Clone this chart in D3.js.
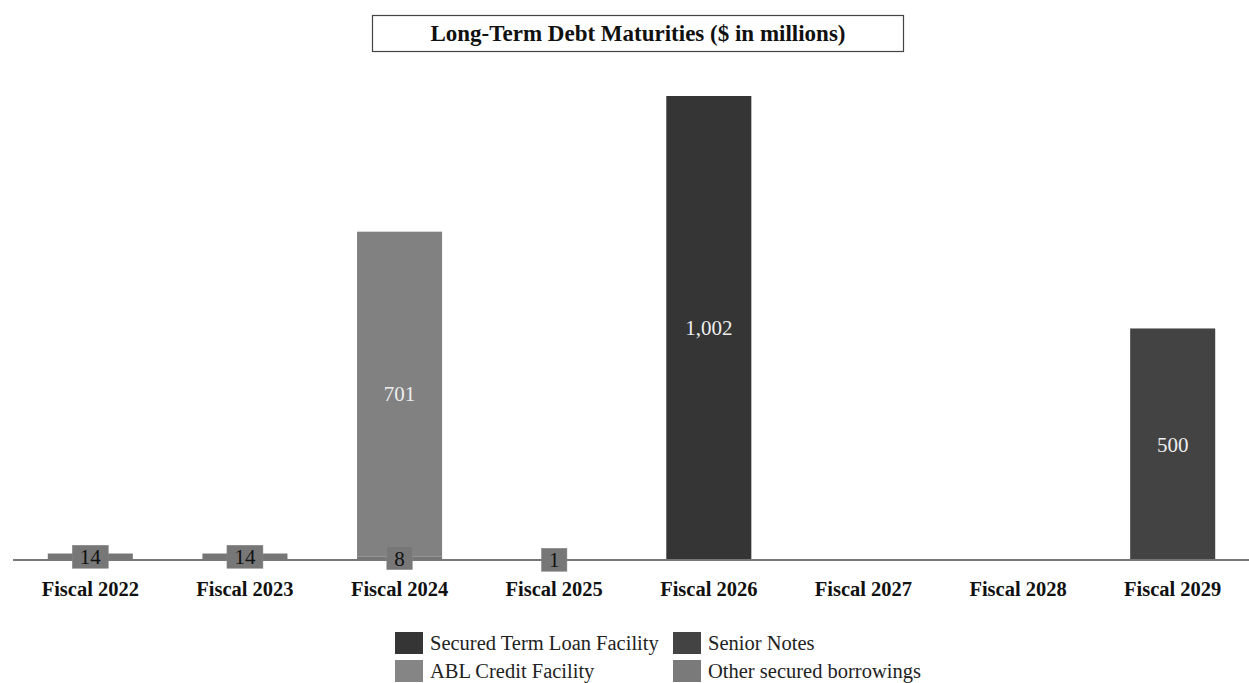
<!DOCTYPE html>
<html>
<head>
<meta charset="utf-8">
<script src="https://cdn.jsdelivr.net/npm/d3@7"></script>
<style>
  body { margin: 0; background: #fff; }
  svg text { font-family: "Times New Roman", "Liberation Serif", serif; }
</style>
</head>
<body>
<div id="root"></div>
<script>
// chart data
const categories = ["Fiscal 2022", "Fiscal 2023", "Fiscal 2024", "Fiscal 2025", "Fiscal 2026", "Fiscal 2027", "Fiscal 2028", "Fiscal 2029"];
const seriesNames = ["Other secured borrowings", "ABL Credit Facility", "Secured Term Loan Facility", "Senior Notes"];
const otherSecured = [14, 14, 8, 1, 0, 0, 0, 0];
const ablCredit = [0, 0, 701, 0, 0, 0, 0, 0];
const termLoan = [0, 0, 0, 0, 1002, 0, 0, 0];
const seniorNotes = [0, 0, 0, 0, 0, 0, 0, 500];
const legendOrder = ["Secured Term Loan Facility", "Senior Notes", "ABL Credit Facility", "Other secured borrowings"];

const W = 1249, H = 683;
const baseY = 560, topY = 96;

const color = d3.scaleOrdinal()
    .domain(seriesNames)
    .range(["#767676", "#818181", "#353535", "#434343"]);

const rows = categories.map((c, i) => ({
    cat: c,
    "Other secured borrowings": otherSecured[i],
    "ABL Credit Facility": ablCredit[i],
    "Secured Term Loan Facility": termLoan[i],
    "Senior Notes": seniorNotes[i]
}));

const stacked = d3.stack().keys(seriesNames)(rows);

const x = d3.scaleBand()
    .domain(categories)
    .range([13, 1250])
    .paddingInner(0.45)
    .paddingOuter(0.225);

const y = d3.scaleLinear().domain([0, 1002]).range([baseY, topY]);

const svg = d3.select("#root").append("svg")
    .attr("width", W)
    .attr("height", H);

// title box
const title = svg.append("g");
title.append("rect")
    .attr("x", 372.5).attr("y", 15.5)
    .attr("width", 531).attr("height", 36)
    .attr("fill", "#fff")
    .attr("stroke", "#444")
    .attr("stroke-width", 1.2);
title.append("text")
    .attr("x", 638).attr("y", 41)
    .attr("text-anchor", "middle")
    .style("font-size", "23px")
    .style("font-weight", "bold")
    .attr("fill", "#111")
    .text("Long-Term Debt Maturities ($ in millions)");

// bars
const layer = svg.selectAll(".layer")
    .data(stacked)
    .enter().append("g")
    .attr("class", "layer")
    .attr("fill", d => color(d.key));

layer.selectAll("rect")
    .data(d => d.filter(s => s[1] - s[0] > 0))
    .enter().append("rect")
    .attr("x", d => x(d.data.cat))
    .attr("width", x.bandwidth())
    .attr("y", d => y(d[1]))
    .attr("height", d => Math.max(0.8, y(d[0]) - y(d[1])));

// axis line
svg.append("line")
    .attr("x1", 13).attr("x2", 1249)
    .attr("y1", baseY).attr("y2", baseY)
    .attr("stroke", "#777")
    .attr("stroke-width", 2);

// category labels
svg.selectAll(".cat")
    .data(categories)
    .enter().append("text")
    .attr("class", "cat")
    .attr("x", d => x(d) + x.bandwidth() / 2)
    .attr("y", 596)
    .attr("text-anchor", "middle")
    .style("font-size", "20.5px")
    .style("font-weight", "bold")
    .attr("fill", "#111")
    .text(d => d);

// data labels
const labels = [];
stacked.forEach(s => s.forEach(d => {
    const v = d[1] - d[0];
    if (v > 0) labels.push({ key: s.key, v: v, cat: d.data.cat, mid: (y(d[0]) + y(d[1])) / 2 });
}));

const fmt = d3.format(",");
const lab = svg.selectAll(".lab")
    .data(labels)
    .enter().append("g")
    .attr("class", "lab")
    .attr("transform", d => `translate(${x(d.cat) + x.bandwidth() / 2},${d.mid})`);

lab.each(function (d) {
    const g = d3.select(this);
    const big = d.v >= 100;
    const t = g.append("text")
        .attr("text-anchor", "middle")
        .attr("dy", "0.35em")
        .style("font-size", "21px")
        .attr("fill", big ? "#eee" : "#111")
        .text(fmt(d.v));
    if (!big) {
        const w = t.node().getComputedTextLength() + 15;
        g.insert("rect", "text")
            .attr("x", -w / 2).attr("y", -11.5)
            .attr("width", w).attr("height", 23)
            .attr("fill", "#777")
            .attr("stroke", "#888")
            .attr("stroke-width", 0.5);
    }
});

// legend
const legend = svg.append("g");
const legendColor = { "Secured Term Loan Facility": "#353535", "Senior Notes": "#434343", "ABL Credit Facility": "#858585", "Other secured borrowings": "#7a7a7a" };
legend.selectAll("g")
    .data(legendOrder)
    .enter().append("g")
    .attr("transform", (d, i) => `translate(${i % 2 === 0 ? 395 : 673},${632 + Math.floor(i / 2) * 28})`)
    .each(function (d) {
        const g = d3.select(this);
        g.append("rect")
            .attr("width", 28).attr("height", 22)
            .attr("fill", legendColor[d]);
        g.append("text")
            .attr("x", 35).attr("y", 18)
            .style("font-size", "20.5px")
            .attr("fill", "#222")
            .text(d);
    });
</script>
</body>
</html>
